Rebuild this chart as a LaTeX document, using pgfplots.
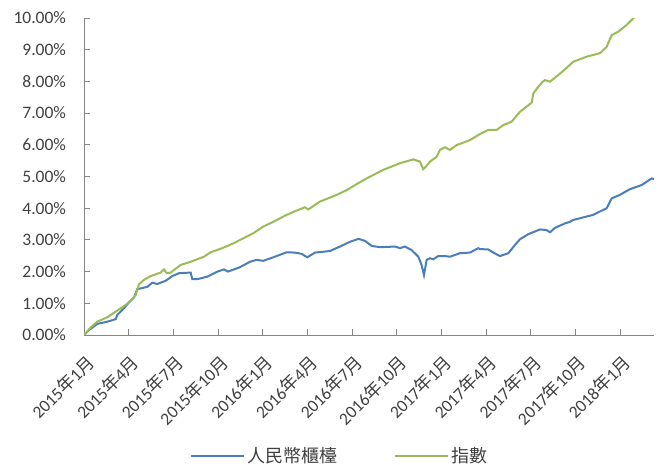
\documentclass[border=0pt]{standalone}
\usepackage{pgfplots}
\pgfplotsset{compat=1.18}
\usepackage{fontspec}
\setmainfont{Carlito}
\newfontfamily\cjk{Noto Sans CJK TC}
\definecolor{bl}{HTML}{4A7EBB}
\definecolor{gr}{HTML}{9BBB59}
\definecolor{tx}{HTML}{404040}
\definecolor{axc}{HTML}{868686}
\newcommand\ny[2]{#1{\cjk 年}#2{\cjk 月}}
\begin{document}
\fontsize{17.5}{21}\selectfont
\begin{tikzpicture}
\begin{axis}[
  scale only axis, width=570pt, height=317pt,
  xmin=0, xmax=38.26, ymin=0, ymax=10,
  axis x line*=bottom, axis y line*=left,
  axis line style={axc, line width=1pt},
  every tick/.style={axc, line width=1pt},
  major tick length=6pt,
  tick align=inside,
  xtick={0,3,...,36},
  xticklabels={\ny{2015}{1},\ny{2015}{4},\ny{2015}{7},\ny{2015}{10},\ny{2016}{1},\ny{2016}{4},\ny{2016}{7},\ny{2016}{10},\ny{2017}{1},\ny{2017}{4},\ny{2017}{7},\ny{2017}{10},\ny{2018}{1}},
  ytick={0,1,...,10},
  yticklabels={0.00\%,1.00\%,2.00\%,3.00\%,4.00\%,5.00\%,6.00\%,7.00\%,8.00\%,9.00\%,10.00\%},
  every tick label/.append style={font=\fontsize{17.5}{21}\selectfont, text=tx},
  yticklabel style={xshift=-12pt},
  xticklabel style={xshift=1pt, yshift=-18pt, rotate=45, anchor=north east, inner sep=0pt},
  legend style={at={(axis description cs:0.449,-0.382)}, anchor=center, draw=none,
    font=\fontsize{18}{21}\selectfont\cjk, text=tx, legend columns=2,
    /tikz/every even column/.append style={column sep=55pt}},
  legend image code/.code={\draw[#1] (0pt,0pt) -- (53pt,0pt);},
]
\addplot[bl, line width=2pt] coordinates {
(0,0) (0.34,0.16) (0.89,0.35) (1.56,0.42) (2.13,0.50) (2.23,0.63) (2.68,0.84)
(3.02,1.03) (3.36,1.19) (3.58,1.45) (3.81,1.47) (4.25,1.52) (4.58,1.65) (4.92,1.61)
(5.48,1.71) (5.93,1.86) (6.38,1.95) (7.16,1.97) (7.27,1.76) (7.60,1.76) (8.28,1.84)
(8.95,2.00) (9.40,2.07) (9.66,2.00) (10.47,2.14) (11.14,2.31) (11.59,2.37) (12.03,2.34)
(12.70,2.45) (13.60,2.61) (14.16,2.60) (14.61,2.56) (14.99,2.45) (15.50,2.60) (16.51,2.65)
(17.18,2.79) (17.85,2.94) (18.41,3.03) (18.52,3.02) (18.86,2.97) (19.31,2.81) (19.87,2.77)
(20.87,2.79) (21.21,2.74) (21.54,2.79) (21.99,2.68) (22.44,2.47) (22.66,2.21) (22.82,1.89)
(23.00,2.37) (23.22,2.42) (23.44,2.39) (23.78,2.49) (24.23,2.49) (24.56,2.47) (25.23,2.58)
(25.91,2.60) (26.46,2.74) (26.58,2.71) (27.13,2.70) (27.47,2.60) (27.92,2.49) (28.48,2.58)
(28.93,2.84) (29.26,3.02) (29.82,3.18) (30.60,3.33) (31.05,3.31) (31.28,3.24) (31.61,3.38)
(32.28,3.52) (32.62,3.57) (32.84,3.63) (34.18,3.79) (35.08,4.00) (35.42,4.31) (35.97,4.42)
(36.64,4.60) (37.43,4.73) (38.10,4.94) (38.26,4.92)
};
\addlegendentry{人民幣櫃檯}
\addplot[gr, line width=2pt] coordinates {
(0,0) (0.45,0.24) (0.89,0.42) (1.56,0.56) (2.23,0.77) (2.80,0.95) (3.24,1.13) (3.47,1.26)
(3.69,1.60) (4.03,1.74) (4.48,1.86) (5.15,1.97) (5.37,2.07) (5.55,1.95) (5.82,1.97)
(6.49,2.21) (7.16,2.31) (8.05,2.47) (8.50,2.61) (9.28,2.74) (10.02,2.89) (10.69,3.05)
(11.36,3.21) (12.03,3.42) (12.70,3.57) (13.60,3.79) (14.50,3.97) (14.83,4.03) (15.05,3.96)
(15.84,4.21) (16.96,4.42) (17.63,4.57) (18.41,4.79) (18.97,4.94) (20.09,5.21) (21.21,5.42)
(22.10,5.54) (22.55,5.47) (22.77,5.23) (22.95,5.31) (23.22,5.47) (23.67,5.62) (23.89,5.84)
(24.23,5.92) (24.56,5.84) (25.01,5.99) (25.91,6.15) (26.58,6.34) (27.13,6.47) (27.70,6.47)
(28.14,6.62) (28.70,6.73) (29.26,7.04) (30.05,7.33) (30.16,7.62) (30.49,7.83) (30.79,7.99)
(30.94,8.04) (31.28,7.99) (31.83,8.20) (32.28,8.38) (32.84,8.62) (33.74,8.78) (34.63,8.89)
(35.08,9.09) (35.42,9.46) (35.86,9.57) (36.42,9.78) (36.98,10.04) (37.65,10.19) (38.26,10.38)
};
\addlegendentry{指數}
\end{axis}
\pgfresetboundingbox
\path[use as bounding box] (-84pt,-129pt) rectangle (576pt,335pt);
\end{tikzpicture}
\end{document}
